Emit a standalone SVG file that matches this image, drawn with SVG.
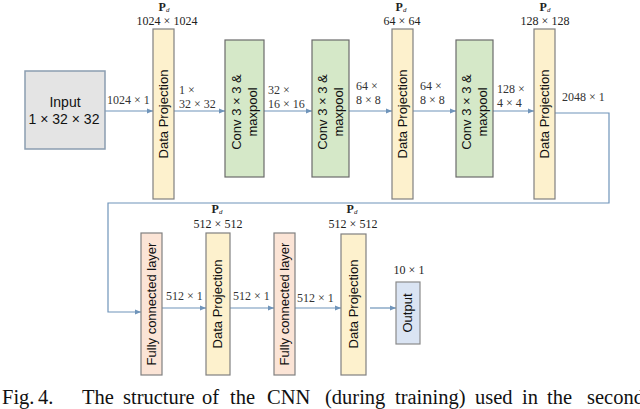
<svg xmlns="http://www.w3.org/2000/svg" width="640" height="409" viewBox="0 0 640 409">
<style>
.dp{fill:#fdf1cd;stroke:#808080;stroke-width:1.2}
.cv{fill:#d5e8c8;stroke:#6b6b6b;stroke-width:1.2}
.fc{fill:#fbe4d6;stroke:#808080;stroke-width:1.2}
.out{fill:#dae4f3;stroke:#8a8a8a;stroke-width:1.2}
.inp{fill:#e4e4e4;stroke:#8b9db0;stroke-width:1.5}
.bt{font-family:"Liberation Sans",Arial,sans-serif;font-size:13px;fill:#111;text-anchor:middle}
.lb{font-family:"Liberation Serif","Times New Roman",serif;font-size:12px;fill:#333}
.pd{font-family:"Liberation Serif","Times New Roman",serif;font-size:12px;fill:#222;text-anchor:middle}
.cn{fill:none;stroke:#6f94ba;stroke-width:1.2}
.cap{font-family:"Liberation Serif","Times New Roman",serif;font-size:20.5px;fill:#111}
</style>
<defs>
<marker id="ah" viewBox="0 0 10 10" refX="10" refY="5" markerWidth="5" markerHeight="5" orient="auto"><path d="M0,1 L10,5 L0,9 z" fill="#6f94ba"/></marker>
</defs>
<g id="connectors">
<line class="cn" x1="105" y1="111" x2="153" y2="111" marker-end="url(#ah)"/>
<line class="cn" x1="174" y1="111" x2="225" y2="111" marker-end="url(#ah)"/>
<line class="cn" x1="264" y1="111" x2="312" y2="111" marker-end="url(#ah)"/>
<line class="cn" x1="349" y1="111" x2="392" y2="111" marker-end="url(#ah)"/>
<line class="cn" x1="413" y1="111" x2="456" y2="111" marker-end="url(#ah)"/>
<line class="cn" x1="493" y1="111" x2="534" y2="111" marker-end="url(#ah)"/>
<polyline class="cn" points="555,113 609,113 609,203 108,203 108,312 141,312" marker-end="url(#ah)"/>
<line class="cn" x1="162" y1="308" x2="206" y2="308" marker-end="url(#ah)"/>
<line class="cn" x1="230" y1="308" x2="274" y2="308" marker-end="url(#ah)"/>
<line class="cn" x1="295" y1="308" x2="341" y2="308" marker-end="url(#ah)"/>
<line class="cn" x1="370" y1="308" x2="396" y2="308" marker-end="url(#ah)"/>
</g>
<g id="input">
<rect class="inp" x="25" y="71" width="80" height="78"/>
<text class="bt" x="65" y="107" style="font-size:14px">Input</text>
<text class="bt" x="64" y="124" style="font-size:14px">1 × 32 × 32</text>
</g>
<g id="dp1">
<text class="pd" x="164" y="11"><tspan font-weight="bold">P</tspan><tspan font-style="italic" font-size="7" dy="1">d</tspan></text>
<text class="pd" x="167" y="25">1024 × 1024</text>
<rect class="dp" x="153" y="29" width="21" height="170"/>
<text class="bt" transform="translate(168,114) rotate(-90)">Data Projection</text>
</g>
<g id="conv1">
<rect class="cv" x="225" y="40" width="39" height="137"/>
<text class="bt" transform="translate(241,112) rotate(-90)">Conv 3 × 3 &amp;</text>
<text class="bt" transform="translate(257,112) rotate(-90)">maxpool</text>
</g>
<g id="conv2">
<rect class="cv" x="312" y="40" width="37" height="137"/>
<text class="bt" transform="translate(327,112) rotate(-90)">Conv 3 × 3 &amp;</text>
<text class="bt" transform="translate(343,112) rotate(-90)">maxpool</text>
</g>
<g id="dp2">
<text class="pd" x="401" y="11"><tspan font-weight="bold">P</tspan><tspan font-style="italic" font-size="7" dy="1">d</tspan></text>
<text class="pd" x="402" y="25">64 × 64</text>
<rect class="dp" x="392" y="29" width="21" height="170"/>
<text class="bt" transform="translate(407,114) rotate(-90)">Data Projection</text>
</g>
<g id="conv3">
<rect class="cv" x="456" y="40" width="37" height="137"/>
<text class="bt" transform="translate(471,112) rotate(-90)">Conv 3 × 3 &amp;</text>
<text class="bt" transform="translate(487,112) rotate(-90)">maxpool</text>
</g>
<g id="dp3">
<text class="pd" x="545" y="11"><tspan font-weight="bold">P</tspan><tspan font-style="italic" font-size="7" dy="1">d</tspan></text>
<text class="pd" x="545" y="25">128 × 128</text>
<rect class="dp" x="534" y="29" width="21" height="170"/>
<text class="bt" transform="translate(549,114) rotate(-90)">Data Projection</text>
</g>
<g id="fc1">
<rect class="fc" x="141" y="233" width="21" height="142"/>
<text class="bt" transform="translate(156,304) rotate(-90)">Fully connected layer</text>
</g>
<g id="dp4">
<text class="pd" x="217" y="213"><tspan font-weight="bold">P</tspan><tspan font-style="italic" font-size="7" dy="1">d</tspan></text>
<text class="pd" x="218" y="228">512 × 512</text>
<rect class="dp" x="206" y="233" width="24" height="142"/>
<text class="bt" transform="translate(222,304) rotate(-90)">Data Projection</text>
</g>
<g id="fc2">
<rect class="fc" x="274" y="233" width="21" height="142"/>
<text class="bt" transform="translate(289,304) rotate(-90)">Fully connected layer</text>
</g>
<g id="dp5">
<text class="pd" x="352" y="213"><tspan font-weight="bold">P</tspan><tspan font-style="italic" font-size="7" dy="1">d</tspan></text>
<text class="pd" x="353" y="228">512 × 512</text>
<rect class="dp" x="341" y="234" width="25" height="141"/>
<text class="bt" transform="translate(358,304) rotate(-90)">Data Projection</text>
</g>
<g id="output">
<text class="pd" x="409" y="274">10 × 1</text>
<rect class="out" x="396" y="282" width="24" height="62"/>
<text class="bt" transform="translate(412,313) rotate(-90)">Output</text>
</g>
<g id="labels">
<text class="lb" x="107" y="104">1024 × 1</text>
<text class="lb" x="179" y="94">1 ×</text>
<text class="lb" x="179" y="108">32 × 32</text>
<text class="lb" x="268" y="94">32 ×</text>
<text class="lb" x="268" y="108">16 × 16</text>
<text class="lb" x="356" y="90">64 ×</text>
<text class="lb" x="356" y="104">8 × 8</text>
<text class="lb" x="420" y="90">64 ×</text>
<text class="lb" x="420" y="104">8 × 8</text>
<text class="lb" x="497" y="93">128 ×</text>
<text class="lb" x="497" y="107">4 × 4</text>
<text class="lb" x="562" y="101">2048 × 1</text>
<text class="lb" x="166" y="300">512 × 1</text>
<text class="lb" x="233" y="300">512 × 1</text>
<text class="lb" x="297" y="302">512 × 1</text>
</g>
<text class="cap" y="404"><tspan x="2">Fig.</tspan><tspan x="38">4.</tspan><tspan x="82">The</tspan><tspan x="123">structure</tspan><tspan x="202">of</tspan><tspan x="230">the</tspan><tspan x="267">CNN</tspan><tspan x="325">(during</tspan><tspan x="395">training)</tspan><tspan x="475">used</tspan><tspan x="522">in</tspan><tspan x="547">the</tspan><tspan x="587">second</tspan></text>
</svg>
